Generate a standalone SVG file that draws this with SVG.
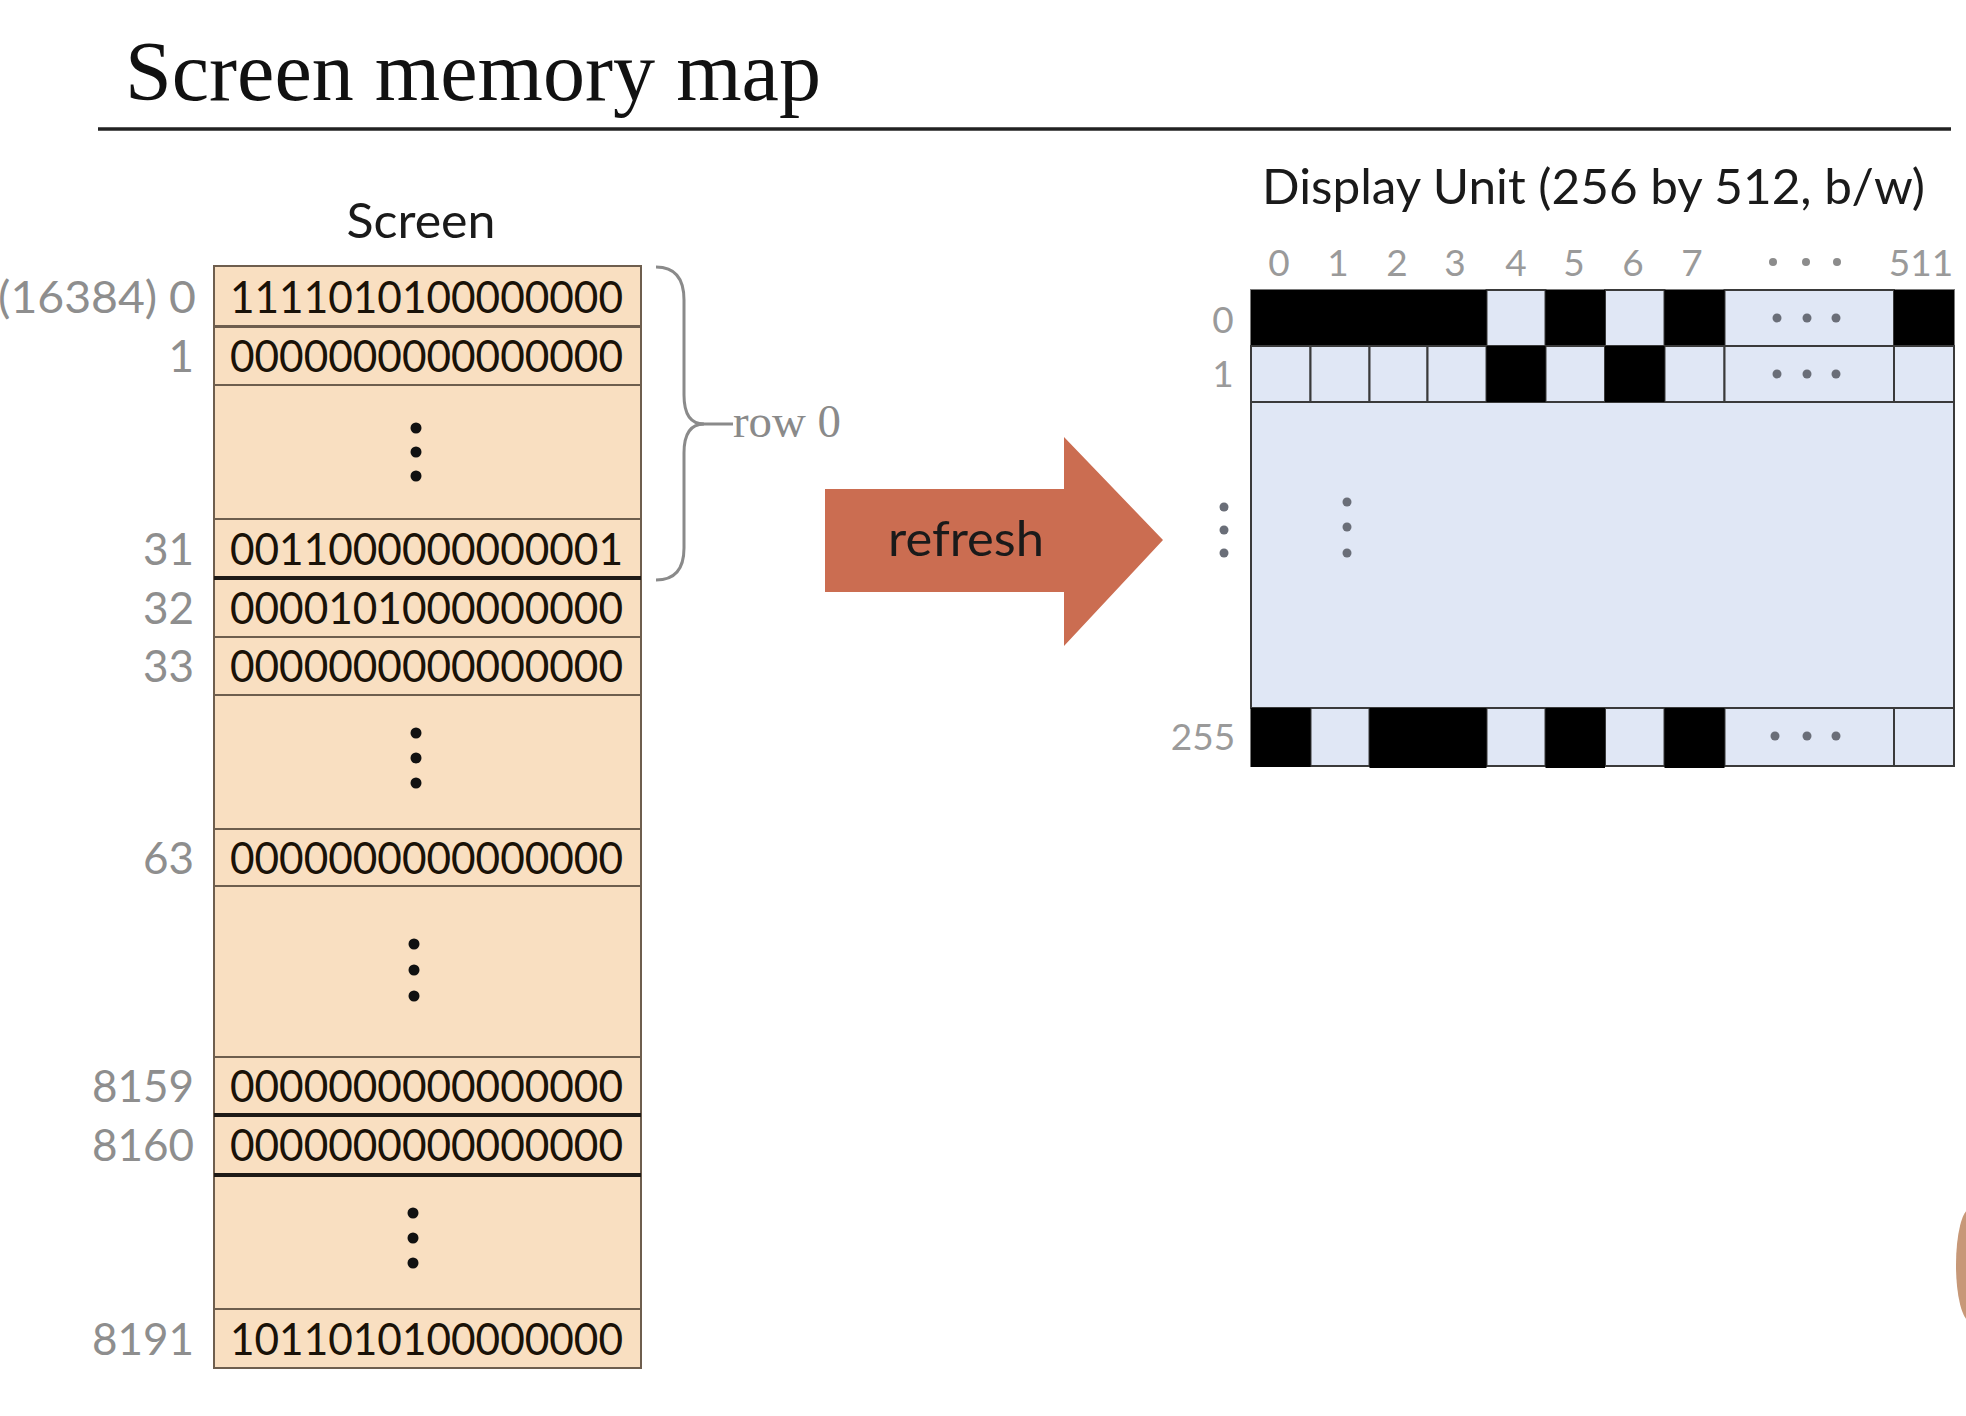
<svg xmlns="http://www.w3.org/2000/svg" width="1966" height="1416" viewBox="0 0 1966 1416">
<style>
.title{font-family:"Liberation Serif","Times New Roman",serif;font-size:84px;fill:#111}
.hd{font-family:Lato,"Liberation Sans",sans-serif;font-size:48px;fill:#1a1a1a}
.bin{font-family:Lato,"Liberation Sans",sans-serif;font-size:44px;fill:#1a1208}
.addr{font-family:Lato,"Liberation Sans",sans-serif;font-size:44px;fill:#8e8e8e;text-anchor:end}
.lbl{font-family:Lato,"Liberation Sans",sans-serif;font-size:37px;fill:#9a9a9a;text-anchor:middle}
.cell{fill:#F9DFC1;stroke:#6e5e4e;stroke-width:2}
.thick{stroke:#1e1a16;stroke-width:4}
.dot{fill:#111}
.gdot{fill:#6a6e78}
.hdot{fill:#8c8c8c}
.blk{fill:#000}
.lt{fill:#E0E7F5;stroke:#3a3a3a;stroke-width:2}
.serif{font-family:"Liberation Serif","Times New Roman",serif;font-size:47px;fill:#8a8a8a}
</style>
<rect width="1966" height="1416" fill="#fff"/>
<g id="title">
<text class="title" x="125" y="100" textLength="696" lengthAdjust="spacingAndGlyphs">Screen memory map</text>
<line x1="98" y1="129" x2="1951" y2="129" stroke="#222" stroke-width="3.5"/>
</g>
<g id="screen-memory">
<text class="hd" x="421" y="238" text-anchor="middle" textLength="149" lengthAdjust="spacingAndGlyphs">Screen</text>
<rect class="cell" x="214" y="266" width="427" height="60"/>
<rect class="cell" x="214" y="327" width="427" height="58"/>
<rect class="cell" x="214" y="385" width="427" height="134"/>
<rect class="cell" x="214" y="519" width="427" height="59"/>
<rect class="cell" x="214" y="578" width="427" height="59"/>
<rect class="cell" x="214" y="637" width="427" height="58"/>
<rect class="cell" x="214" y="695" width="427" height="134"/>
<rect class="cell" x="214" y="829" width="427" height="57"/>
<rect class="cell" x="214" y="886" width="427" height="171"/>
<rect class="cell" x="214" y="1057" width="427" height="58"/>
<rect class="cell" x="214" y="1115" width="427" height="60"/>
<rect class="cell" x="214" y="1175" width="427" height="134"/>
<rect class="cell" x="214" y="1309" width="427" height="59"/>
<line class="thick" x1="214" y1="578" x2="641" y2="578"/>
<line class="thick" x1="214" y1="1115" x2="641" y2="1115"/>
<line class="thick" x1="214" y1="1175" x2="641" y2="1175"/>
<text class="bin" x="230" y="313" textLength="393" lengthAdjust="spacingAndGlyphs">1111010100000000</text>
<text class="bin" x="230" y="372" textLength="393" lengthAdjust="spacingAndGlyphs">0000000000000000</text>
<text class="bin" x="230" y="565" textLength="393" lengthAdjust="spacingAndGlyphs">0011000000000001</text>
<text class="bin" x="230" y="624" textLength="393" lengthAdjust="spacingAndGlyphs">0000101000000000</text>
<text class="bin" x="230" y="682" textLength="393" lengthAdjust="spacingAndGlyphs">0000000000000000</text>
<text class="bin" x="230" y="874" textLength="393" lengthAdjust="spacingAndGlyphs">0000000000000000</text>
<text class="bin" x="230" y="1102" textLength="393" lengthAdjust="spacingAndGlyphs">0000000000000000</text>
<text class="bin" x="230" y="1161" textLength="393" lengthAdjust="spacingAndGlyphs">0000000000000000</text>
<text class="bin" x="230" y="1355" textLength="393" lengthAdjust="spacingAndGlyphs">1011010100000000</text>
<circle class="dot" cx="416" cy="428" r="5.5"/><circle class="dot" cx="416" cy="452" r="5.5"/><circle class="dot" cx="416" cy="476" r="5.5"/>
<circle class="dot" cx="416" cy="733" r="5.5"/><circle class="dot" cx="416" cy="758" r="5.5"/><circle class="dot" cx="416" cy="783" r="5.5"/>
<circle class="dot" cx="414" cy="944" r="5.5"/><circle class="dot" cx="414" cy="970" r="5.5"/><circle class="dot" cx="414" cy="996" r="5.5"/>
<circle class="dot" cx="413" cy="1213" r="5.5"/><circle class="dot" cx="413" cy="1238" r="5.5"/><circle class="dot" cx="413" cy="1263" r="5.5"/>
<text class="addr" x="196" y="313" textLength="198" lengthAdjust="spacingAndGlyphs">(16384) 0</text>
<text class="addr" x="194" y="372">1</text>
<text class="addr" x="194" y="565">31</text>
<text class="addr" x="194" y="624">32</text>
<text class="addr" x="194" y="682">33</text>
<text class="addr" x="194" y="874">63</text>
<text class="addr" x="194" y="1102">8159</text>
<text class="addr" x="194" y="1161">8160</text>
<text class="addr" x="194" y="1355">8191</text>
</g>
<g id="row0-brace">
<path d="M656 267 Q684 267 684 300 L684 395 Q684 424 704 424 Q684 424 684 453 L684 548 Q684 580 656 580" fill="none" stroke="#8a8a8a" stroke-width="3"/>
<line x1="700" y1="424" x2="733" y2="424" stroke="#8a8a8a" stroke-width="3"/>
<text class="serif" x="733" y="437" textLength="108" lengthAdjust="spacingAndGlyphs">row 0</text>
</g>
<g id="refresh-arrow">
<polygon points="825,489 1064,489 1064,437 1163,540 1064,646 1064,592 825,592" fill="#CB6D51"/>
<text class="hd" x="966" y="556" text-anchor="middle" textLength="156" lengthAdjust="spacingAndGlyphs" fill="#1a0e08">refresh</text>
</g>
<g id="display-unit">
<text class="hd" x="1262" y="204" textLength="663" lengthAdjust="spacingAndGlyphs">Display Unit (256 by 512, b/w)</text>
<text class="lbl" x="1279" y="276">0</text>
<text class="lbl" x="1338" y="276">1</text>
<text class="lbl" x="1397" y="276">2</text>
<text class="lbl" x="1455" y="276">3</text>
<text class="lbl" x="1516" y="276">4</text>
<text class="lbl" x="1574" y="276">5</text>
<text class="lbl" x="1633" y="276">6</text>
<text class="lbl" x="1692" y="276">7</text>
<circle class="hdot" cx="1773" cy="262" r="4"/><circle class="hdot" cx="1806" cy="262" r="4"/><circle class="hdot" cx="1837" cy="262" r="4"/>
<text class="lbl" x="1921" y="276">511</text>
<text class="lbl" x="1223" y="333">0</text>
<text class="lbl" x="1223" y="387">1</text>
<circle class="gdot" cx="1224" cy="507" r="4.5"/><circle class="gdot" cx="1224" cy="530" r="4.5"/><circle class="gdot" cx="1224" cy="553" r="4.5"/>
<text class="lbl" x="1203" y="750">255</text>
<rect x="1251" y="290" width="703" height="476" fill="#E0E7F5" stroke="#7a7a7a" stroke-width="2"/>
<rect class="lt" x="1251" y="402" width="703" height="306" stroke="#7a7a7a"/>
<g id="row0">
<rect class="lt" x="1486.5" y="290" width="59" height="56"/>
<rect class="lt" x="1605" y="290" width="59.5" height="56"/>
<rect class="lt" x="1724.5" y="290" width="169.5" height="56"/>
<rect class="blk" x="1251" y="290" width="235.5" height="56"/>
<rect class="blk" x="1545.5" y="290" width="59.5" height="56"/>
<rect class="blk" x="1664.5" y="290" width="60" height="56"/>
<rect class="blk" x="1894" y="290" width="60" height="56"/>
</g>
<g id="row1">
<rect class="lt" x="1251" y="346" width="59.5" height="56"/>
<rect class="lt" x="1310.5" y="346" width="59" height="56"/>
<rect class="lt" x="1369.5" y="346" width="58" height="56"/>
<rect class="lt" x="1427.5" y="346" width="59" height="56"/>
<rect class="lt" x="1545.5" y="346" width="59.5" height="56"/>
<rect class="lt" x="1664.5" y="346" width="60" height="56"/>
<rect class="lt" x="1724.5" y="346" width="169.5" height="56"/>
<rect class="lt" x="1894" y="346" width="60" height="56"/>
<rect class="blk" x="1486.5" y="346" width="59" height="56"/>
<rect class="blk" x="1605" y="346" width="59.5" height="56"/>
</g>
<g id="row255">
<rect class="lt" x="1310.5" y="708" width="59" height="58"/>
<rect class="lt" x="1486.5" y="708" width="59" height="58"/>
<rect class="lt" x="1605" y="708" width="59.5" height="58"/>
<rect class="lt" x="1724.5" y="708" width="169.5" height="58"/>
<rect class="lt" x="1894" y="708" width="60" height="58"/>
<rect class="blk" x="1251" y="708" width="59.5" height="59"/>
<rect class="blk" x="1369.5" y="708" width="117" height="60"/>
<rect class="blk" x="1545.5" y="708" width="59.5" height="60"/>
<rect class="blk" x="1664.5" y="708" width="60" height="60"/>
</g>
<circle class="gdot" cx="1777" cy="318" r="4.5"/><circle class="gdot" cx="1807" cy="318" r="4.5"/><circle class="gdot" cx="1836" cy="318" r="4.5"/>
<circle class="gdot" cx="1777" cy="374" r="4.5"/><circle class="gdot" cx="1807" cy="374" r="4.5"/><circle class="gdot" cx="1836" cy="374" r="4.5"/>
<circle class="gdot" cx="1775" cy="736" r="4.5"/><circle class="gdot" cx="1807" cy="736" r="4.5"/><circle class="gdot" cx="1836" cy="736" r="4.5"/>
<circle class="gdot" cx="1347" cy="502" r="4.5"/><circle class="gdot" cx="1347" cy="527" r="4.5"/><circle class="gdot" cx="1347" cy="553" r="4.5"/>
</g>
<ellipse cx="1970" cy="1265" rx="14" ry="56" fill="#C79878"/>
</svg>
